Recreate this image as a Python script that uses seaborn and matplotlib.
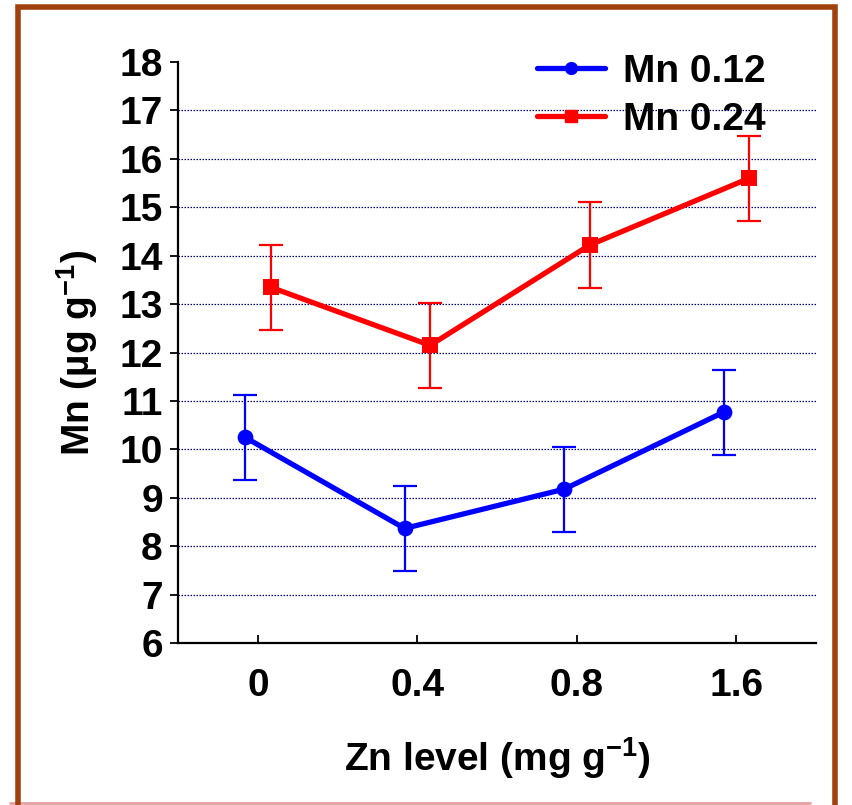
import matplotlib
matplotlib.use("Agg")
import matplotlib.pyplot as plt
import seaborn as sns
import pandas as pd
import numpy as np
from matplotlib.patches import Rectangle
from matplotlib.lines import Line2D

zn_levels = ["0", "0.4", "0.8", "1.6"]
series_names = ["Mn 0.12", "Mn 0.24"]
mn_012 = [10.25, 8.37, 9.18, 10.77]
mn_024 = [13.35, 12.15, 14.22, 15.60]
err_012 = [0.88, 0.88, 0.88, 0.88]
err_024 = [0.88, 0.88, 0.88, 0.88]
colors = ["#0000FF", "#FF0000"]
markers = ["o", "s"]

df = pd.DataFrame({
    "Zn": zn_levels * 2,
    "Mn": mn_012 + mn_024,
    "err": err_012 + err_024,
    "series": [series_names[0]] * 4 + [series_names[1]] * 4,
})

sns.set_style("white")
plt.rcParams["font.family"] = ["Liberation Sans", "DejaVu Sans"]
plt.rcParams["font.weight"] = "bold"
plt.rcParams["text.color"] = "black"
plt.rcParams["axes.labelcolor"] = "black"
plt.rcParams["xtick.color"] = "black"
plt.rcParams["ytick.color"] = "black"
plt.rcParams["mathtext.fontset"] = "custom"
plt.rcParams["mathtext.rm"] = "Liberation Sans:bold"
plt.rcParams["mathtext.bf"] = "Liberation Sans:bold"
plt.rcParams["mathtext.it"] = "Liberation Sans:bold"
plt.rcParams["mathtext.default"] = "bf"

fig = plt.figure(figsize=(8.52, 8.05), dpi=100)
ax = fig.add_axes([0.209, 0.201, 0.749, 0.722])

sns.pointplot(data=df, x="Zn", y="Mn", hue="series", order=zn_levels,
              hue_order=series_names, palette=colors, markers=markers,
              dodge=0.16, errorbar=None, linewidth=3.8, markersize=8.5, ax=ax)

pt_lines = [l for l in ax.lines if len(l.get_xdata()) == len(zn_levels)]
errs = [err_012, err_024]
for line, e, c in zip(pt_lines[:2], errs, colors):
    xs = line.get_xdata()
    ys = line.get_ydata()
    ax.errorbar(xs, ys, yerr=e, fmt="none", ecolor=c, elinewidth=1.6,
                capsize=8.5, capthick=1.6, zorder=1)

ax.set_ylim(6, 18)
ax.set_xlim(-0.5, 3.5)
ax.set_yticks(range(6, 19))
ax.yaxis.grid(True, linestyle=(0, (1.2, 1.2)), color="#00008B", linewidth=0.9)
ax.set_axisbelow(True)
ax.get_ygridlines()[-1].set_visible(False)
ax.xaxis.grid(False)

for s in ["top", "right"]:
    ax.spines[s].set_visible(False)
for s in ["left", "bottom"]:
    ax.spines[s].set_color("black")
    ax.spines[s].set_linewidth(1.6)

ax.tick_params(axis="y", direction="out", length=6, width=1.3, pad=5,
               labelsize=28, left=True, colors="black")
ax.tick_params(axis="x", direction="in", length=6, width=1.3, pad=18,
               labelsize=28, bottom=True, colors="black")
for t in ax.get_xticklabels() + ax.get_yticklabels():
    t.set_fontweight("bold")

ax.set_xlabel(r"Zn level (mg g$^{-1}$)", fontsize=28, fontweight="bold",
              labelpad=22, color="black")
ax.set_ylabel("Mn (µg g$^{-1}$)", fontsize=28, fontweight="bold",
              labelpad=14, color="black")

handles = [Line2D([], [], color=c, marker=m, linewidth=3.8, markersize=8.5)
           for c, m in zip(colors, markers)]
leg = ax.legend(handles=handles, labels=series_names, loc="upper right",
                bbox_to_anchor=(0.975, 1.074), frameon=False,
                prop={"size": 28, "weight": "bold"}, handlelength=1.75,
                handletextpad=0.45, labelspacing=0.3)
for t in leg.get_texts():
    t.set_color("black")

fig.patches.append(Rectangle((18 / 852, -0.05), (835 - 18) / 852, 1.05 - 7 / 805,
                             transform=fig.transFigure, fill=False,
                             edgecolor="#A0400F", linewidth=4, zorder=10))
fig.lines.append(Line2D([10 / 852, 810 / 852], [2 / 805, 2 / 805],
                        transform=fig.transFigure, color="#E8A0A0", linewidth=2))

fig.savefig("out.png", dpi=100)
